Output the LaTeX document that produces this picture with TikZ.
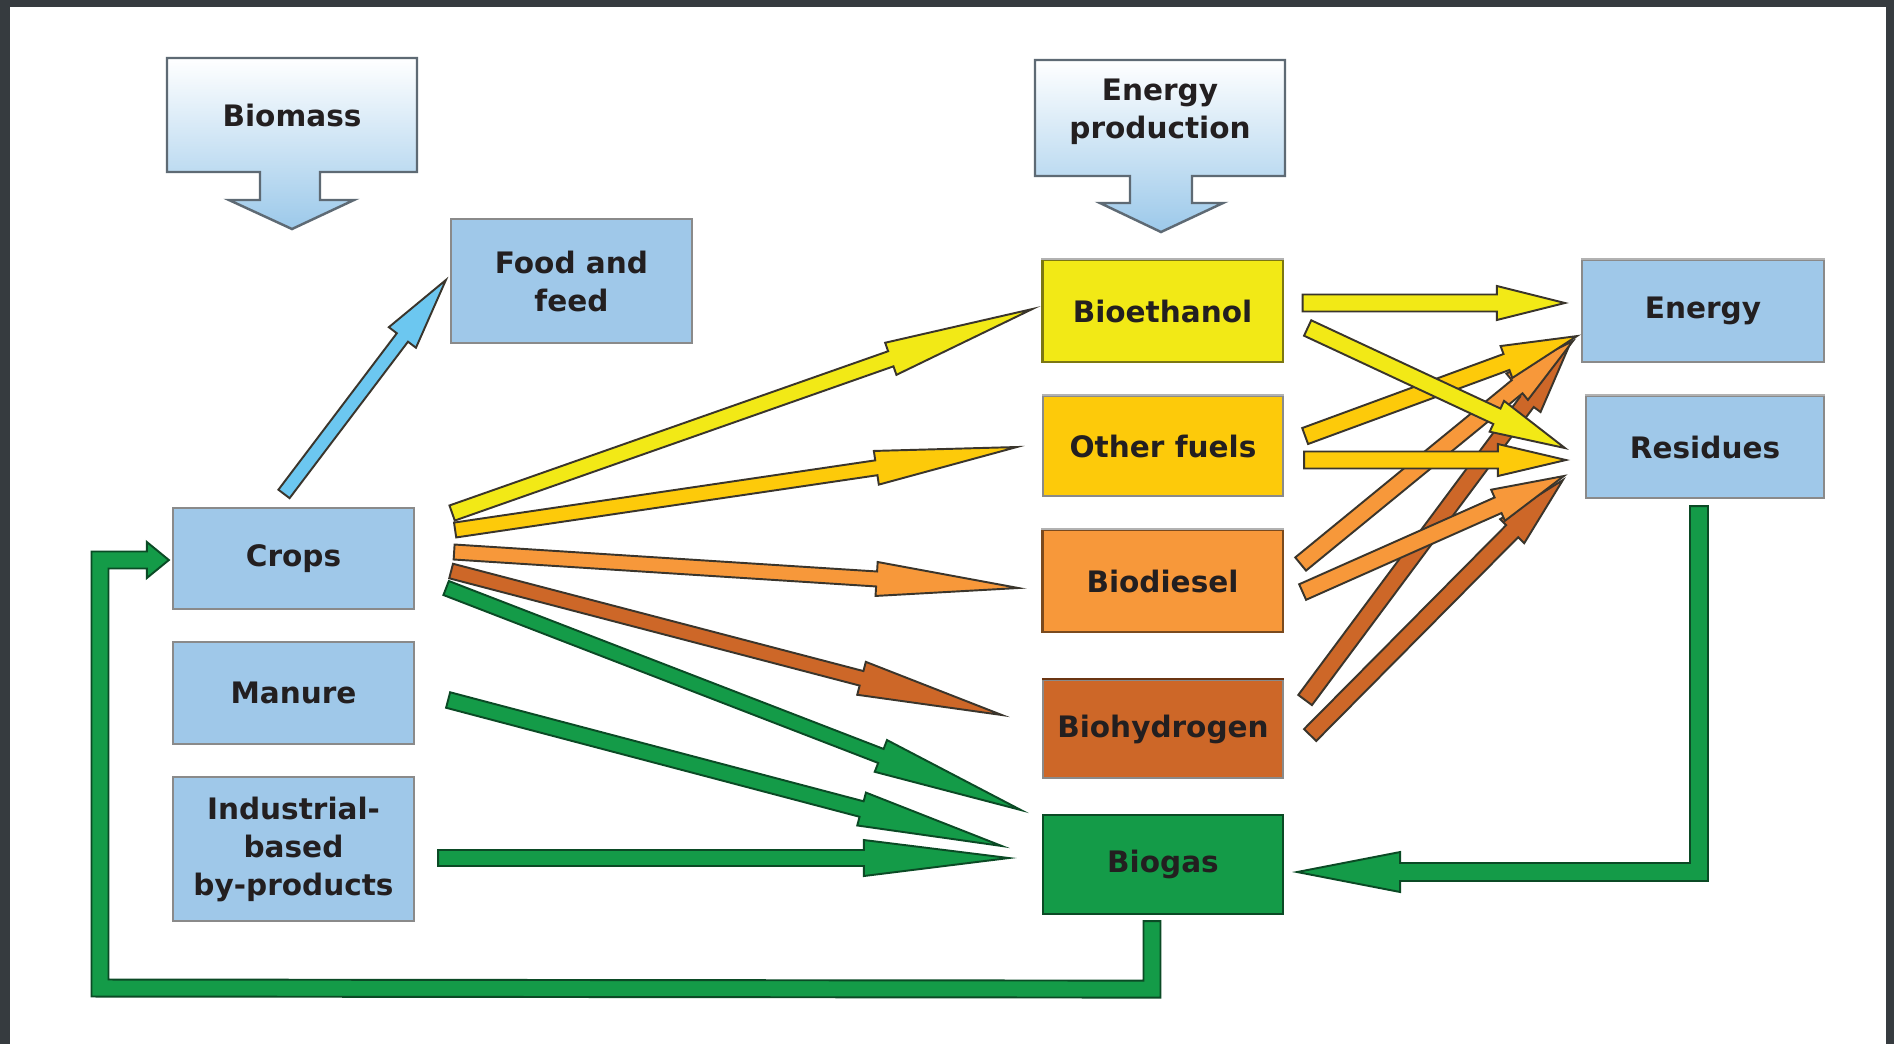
\documentclass[tikz,border=0pt]{standalone}
\usepackage{fontspec}
\setmainfont{DejaVu Sans}
\usetikzlibrary{calc}
\definecolor{framec}{HTML}{363B3F}
\definecolor{boxblue}{HTML}{9FC8E9}
\definecolor{boxgray}{HTML}{8A8A8A}
\definecolor{boxlight}{HTML}{B2B2B2}
\definecolor{cyel}{HTML}{F2E916}
\definecolor{cyeld}{HTML}{7C7712}
\definecolor{cgold}{HTML}{FDCA0A}
\definecolor{corg}{HTML}{F7983A}
\definecolor{corgd}{HTML}{7A4A1E}
\definecolor{cbrn}{HTML}{CD6728}
\definecolor{cbrnd}{HTML}{6B3513}
\definecolor{cgrn}{HTML}{149B48}
\definecolor{cgrnd}{HTML}{0B4A25}
\definecolor{csky}{HTML}{6CC7F0}
\definecolor{txt}{HTML}{231F20}
\definecolor{callout}{HTML}{9CC9EA}
\definecolor{calloutd}{HTML}{5E6A74}
\definecolor{arrline}{HTML}{3A352C}

% #1 tail, #2 tip, #3 half shaft width, #4 half head width, #5 head length, #6 style
\newcommand{\fatarrow}[6]{%
  \coordinate (fan) at ($(#2)!#5!(#1)$);
  \filldraw[#6] ($(#1)!#3!90:(#2)$) -- ($(fan)!#3!90:(#2)$) -- ($(fan)!#4!90:(#2)$) -- (#2)
    -- ($(fan)!#4!-90:(#2)$) -- ($(fan)!#3!-90:(#2)$) -- ($(#1)!#3!-90:(#2)$) -- cycle;}

\begin{document}
\begin{tikzpicture}[x=0.01cm, y=-0.01cm,
  font=\fontsize{8.4}{10.8}\selectfont\bfseries,
  bluebox/.style={draw=boxgray, fill=boxblue, line width=0.6pt, inner sep=0pt, align=center, text=txt,
    minimum width=2.41cm},
  fuelbox/.style={line width=0.6pt, inner sep=0pt, align=center, text=txt,
    minimum width=2.40cm},
  topedge/.style={draw=boxlight, line width=0.7pt},
  arrbase/.style={line width=0.55pt, line join=miter},
  yarr/.style={arrbase, fill=cyel, draw=arrline},
  garr/.style={arrbase, fill=cgold, draw=arrline},
  oarr/.style={arrbase, fill=corg, draw=arrline},
  barr/.style={arrbase, fill=cbrn, draw=arrline},
  grarr/.style={arrbase, fill=cgrn, draw=cgrnd},
  skyarr/.style={arrbase, fill=csky, draw=arrline},
  calloutshape/.style={top color=white, bottom color=callout, draw=calloutd, line width=0.7pt, line join=miter}
]
\useasboundingbox (0,0) rectangle (1894,1044);
\fill[framec] (0,0) rectangle (1894,1044);
\fill[white] (10,7) rectangle (1886,1044);

% callouts
\shadedraw[calloutshape] (167,58) -- (417,58) -- (417,172) -- (320,172) -- (320,200) -- (354,200) -- (292,229)
  -- (229,200) -- (260,200) -- (260,172) -- (167,172) -- cycle;
\node[text=txt] (biomass) at (292,115) {Biomass};
\shadedraw[calloutshape] (1035,60) -- (1285,60) -- (1285,176) -- (1192,176) -- (1192,203) -- (1223,203) -- (1161,232)
  -- (1100,203) -- (1130,203) -- (1130,176) -- (1035,176) -- cycle;
\node[text=txt, align=center] (eprod) at (1160,112) {Energy\\production};

% boxes
\node[bluebox, minimum height=1.24cm] (food) at (571.5,281) {Food and\\feed};
\node[bluebox, minimum height=1.01cm] (crops) at (293.5,558.5) {Crops};
\node[bluebox, minimum height=1.02cm] (manure) at (293.5,693) {Manure};
\node[bluebox, minimum height=1.44cm] (industrial) at (293.5,849) {Industrial-\\based\\by-products};

\node[fuelbox, fill=cyel, draw=cyeld, minimum height=1.02cm] (bioethanol) at (1162.5,311) {Bioethanol};
\node[fuelbox, fill=cgold, draw=boxgray, minimum height=1.00cm] (otherfuels) at (1163,446) {Other fuels};
\node[fuelbox, fill=corg, draw=corgd, minimum height=1.02cm] (biodiesel) at (1162.5,581) {Biodiesel};
\node[fuelbox, fill=cbrn, draw=boxgray, minimum height=0.98cm] (biohydrogen) at (1163,729) {Biohydrogen};
\node[fuelbox, fill=cgrn, draw=cgrnd, minimum height=0.99cm] (biogas) at (1163,864.5) {Biogas};

\node[bluebox, minimum width=2.42cm, minimum height=1.02cm] (energy) at (1703,311) {Energy};
\node[bluebox, minimum width=2.38cm, minimum height=1.02cm] (residues) at (1705,447) {Residues};

% light top edges
\draw[topedge] (bioethanol.north west) -- (bioethanol.north east);
\draw[topedge] (otherfuels.north west) -- (otherfuels.north east);
\draw[topedge] (biodiesel.north west) -- (biodiesel.north east);
\draw[topedge, draw=cbrnd] (biohydrogen.north west) -- (biohydrogen.north east);
\draw[topedge] (energy.north west) -- (energy.north east);
\draw[topedge] (residues.north west) -- (residues.north east);

% crops -> food
\coordinate (s0) at ($(crops.north)+(-9.5,-13)$);
\coordinate (e0) at ($(food.west)+(-4,-1)$);
\fatarrow{s0}{e0}{0.07cm}{0.17cm}{0.72cm}{skyarr}

% left fan
\coordinate (s1) at ($(crops.east)+(37,-45.5)$);
\coordinate (e1) at ($(bioethanol.west)+(-9,-2)$);
\coordinate (s2) at ($(crops.east)+(40,-28.5)$);
\coordinate (e2) at ($(otherfuels.west)+(-25,1)$);
\coordinate (s3) at ($(crops.east)+(39,-6.5)$);
\coordinate (e3) at ($(biodiesel.west)+(-23,7)$);
\coordinate (s4) at ($(crops.east)+(36,12.5)$);
\coordinate (e4) at ($(biohydrogen.west)+(-40,-14)$);
\coordinate (s5) at ($(crops.east)+(31,29.5)$);
\coordinate (e5) at ($(biogas.west)+(-21,-54.5)$);
\coordinate (s6) at ($(manure.east)+(33,7)$);
\coordinate (e6) at ($(biogas.west)+(-40,-18.5)$);
\coordinate (s7) at ($(industrial.east)+(23,9)$);
\coordinate (e7) at ($(biogas.west)+(-33,-6.5)$);

\fatarrow{s7}{e7}{0.08cm}{0.18cm}{1.45cm}{grarr}
\fatarrow{s6}{e6}{0.08cm}{0.17cm}{1.45cm}{grarr}
\fatarrow{s5}{e5}{0.075cm}{0.17cm}{1.5cm}{grarr}
\fatarrow{s4}{e4}{0.075cm}{0.17cm}{1.45cm}{barr}
\fatarrow{s3}{e3}{0.075cm}{0.17cm}{1.42cm}{oarr}
\fatarrow{s2}{e2}{0.075cm}{0.17cm}{1.42cm}{garr}
\fatarrow{s1}{e1}{0.08cm}{0.17cm}{1.5cm}{yarr}

% right side
\coordinate (r8s) at ($(bioethanol.east)+(19,-8)$);
\coordinate (r8e) at ($(energy.west)+(-16,-8)$);
\coordinate (r9s) at ($(bioethanol.east)+(24,17)$);
\coordinate (r9e) at ($(residues.west)+(-20,1)$);
\coordinate (r10s) at ($(otherfuels.east)+(21,-10)$);
\coordinate (r10e) at ($(energy.south west)+(-4,-27)$);
\coordinate (r11s) at ($(otherfuels.east)+(20,14)$);
\coordinate (r11e) at ($(residues.west)+(-19,13)$);
\coordinate (r12s) at ($(biodiesel.east)+(17,-17)$);
\coordinate (r12e) at ($(energy.south west)+(-8,-22)$);
\coordinate (r13s) at ($(biodiesel.east)+(19,11)$);
\coordinate (r13e) at ($(residues.west)+(-21,29)$);
\coordinate (r14s) at ($(biohydrogen.east)+(21,-29)$);
\coordinate (r14e) at ($(energy.south west)+(-11,-19)$);
\coordinate (r15s) at ($(biohydrogen.east)+(26,6)$);
\coordinate (r15e) at ($(residues.west)+(-22,33)$);

\fatarrow{r14s}{r14e}{0.085cm}{0.17cm}{0.72cm}{barr}
\fatarrow{r15s}{r15e}{0.085cm}{0.17cm}{0.72cm}{barr}
\fatarrow{r12s}{r12e}{0.085cm}{0.17cm}{0.72cm}{oarr}
\fatarrow{r13s}{r13e}{0.085cm}{0.17cm}{0.72cm}{oarr}
\fatarrow{r10s}{r10e}{0.085cm}{0.17cm}{0.75cm}{garr}
\fatarrow{r11s}{r11e}{0.085cm}{0.16cm}{0.68cm}{garr}
\fatarrow{r9s}{r9e}{0.085cm}{0.17cm}{0.75cm}{yarr}
\fatarrow{r8s}{r8e}{0.085cm}{0.17cm}{0.68cm}{yarr}

% residues -> biogas
\coordinate (r0) at ($(residues.south)+(-6,7)$);
\coordinate (rt) at ($(biogas.east)+(13,7.5)$);
\coordinate (rc) at (r0 |- rt);
\filldraw[grarr] ($(r0)+(-9,0)$) -- ($(r0)+(9,0)$) -- ($(rc)+(9,9)$) -- ($(rt)+(103,9)$) -- ($(rt)+(103,20)$)
  -- (rt) -- ($(rt)+(103,-20)$) -- ($(rt)+(103,-9)$) -- ($(rc)+(-9,-9)$) -- cycle;

% biogas -> crops loop
\coordinate (g0) at ($(biogas.south)+(-11,6)$);
\coordinate (gt) at ($(crops.west)+(-3,1.5)$);
\coordinate (g1) at ($(g0)+(0,68)$);
\coordinate (g2) at (100,988);
\coordinate (g3) at (g2 |- gt);
\filldraw[grarr] ($(g0)+(-8.5,0)$) -- ($(g0)+(8.5,0)$) -- ($(g1)+(8.5,8.5)$) -- ($(g2)+(-8.5,8.5)$)
  -- ($(g3)+(-8.5,-8.5)$) -- ($(gt)+(-22,-8.5)$) -- ($(gt)+(-22,-18)$) -- (gt) -- ($(gt)+(-22,18)$)
  -- ($(gt)+(-22,8.5)$) -- ($(g3)+(8.5,8.5)$) -- ($(g2)+(8.5,-8.5)$) -- ($(g1)+(-8.5,-8.5)$) -- cycle;
\end{tikzpicture}
\end{document}
